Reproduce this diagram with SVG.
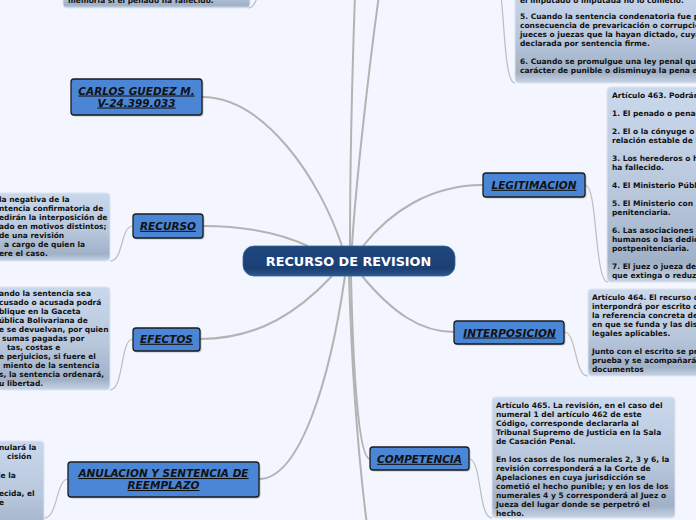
<svg xmlns="http://www.w3.org/2000/svg" width="696" height="520" viewBox="0 0 696 520">
<defs>
<linearGradient id="boxg" x1="0" y1="0" x2="0" y2="1">
<stop offset="0" stop-color="#cad8ec"/>
<stop offset="0.55" stop-color="#b8c7dc"/>
<stop offset="0.9" stop-color="#a0b0c6"/>
<stop offset="1" stop-color="#c9d5e6"/>
</linearGradient>
<linearGradient id="centg" x1="0" y1="0" x2="0" y2="1">
<stop offset="0" stop-color="#1f4880"/>
<stop offset="0.75" stop-color="#1b3f73"/>
<stop offset="1" stop-color="#2c5890"/>
</linearGradient>
<style>
.bg{fill:#f3f6fe}
.box{fill:url(#boxg);stroke:#dbe3ef;stroke-width:1}
.bt{font-family:"DejaVu Sans",Verdana,sans-serif;font-weight:bold;font-size:7.5px;fill:#111}
.node{fill:#4a86d5;stroke:#1b1b1b;stroke-width:1.3}
.shadow{fill:#000;opacity:0.22}
.nt{font-family:"DejaVu Sans",Verdana,sans-serif;font-weight:bold;font-style:italic;font-size:10.5px;fill:#111;text-anchor:middle;text-decoration:underline}
.ct{font-family:"DejaVu Sans",Verdana,sans-serif;font-weight:bold;font-size:12.8px;fill:#fff;text-anchor:middle}
.c1{fill:none;stroke:#b3b3b3;stroke-width:2}
.c2{fill:none;stroke:#bdbdbd;stroke-width:1.2}
</style>
</defs>
<rect class="bg" x="0" y="0" width="696" height="520"/>

<g id="connectors">
<path class="c1" d="M202,97 C265,97 320,180 342,246"/>
<path class="c1" d="M355,-5 C352,80 350,180 350,246"/>
<path class="c1" d="M379,-5 C370,60 356,180 352,246"/>
<path class="c1" d="M203,226 C245,226 282,234 308,246"/>
<path class="c1" d="M363,246 C390,212 430,185 483,185"/>
<path class="c1" d="M200,339 C260,339 300,310 332,276"/>
<path class="c1" d="M362,276 C392,312 420,332 454,332"/>
<path class="c1" d="M345,276 C330,380 300,479 259,479"/>
<path class="c1" d="M351,276 C353,365 358,459 370,459"/>
<path class="c1" d="M349,276 C352,380 360,470 367,525"/>
<path class="c2" d="M248,8 C258,8 258,-15 270,-25"/>
<path class="c2" d="M490,-40 C507,-40 500,83 515,83"/>
<path class="c2" d="M585,185 C598,185 594,282 608,282"/>
<path class="c2" d="M564,332 C577,332 574,376 588,376"/>
<path class="c2" d="M469,459 C482,459 478,518 492,518"/>
<path class="c2" d="M133,226 C120,226 124,261 110,261"/>
<path class="c2" d="M133,339 C120,339 124,390 110,390"/>
<path class="c2" d="M68,479 C56,479 58,518 44,518"/>
</g>

<g id="box-top-left">
<rect class="box" x="63" y="-20" width="187" height="28" rx="4"/>
<text class="bt" x="68" y="2.5">memoria si el penado ha fallecido.</text>
</g>

<g id="box-top-right">
<rect class="box" x="515" y="-20" width="200" height="103" rx="4"/>
<text class="bt" x="520" y="3">el imputado o imputada no lo cometió.</text>
<text class="bt" x="520" y="19">5. Cuando la sentencia condenatoria fue p</text>
<text class="bt" x="520" y="28">consecuencia de prevaricación o corrupció</text>
<text class="bt" x="520" y="37">jueces o juezas que la hayan dictado, cuya</text>
<text class="bt" x="520" y="46">declarada por sentencia firme.</text>
<text class="bt" x="520" y="64">6. Cuando se promulgue una ley penal que</text>
<text class="bt" x="520" y="73">carácter de punible o disminuya la pena es</text>
</g>

<g id="box-legitimacion">
<rect class="box" x="607" y="87" width="110" height="195" rx="4"/>
<text class="bt" x="612" y="98.4">Artículo 463. Podrán</text>
<text class="bt" x="612" y="116.4">1. El penado o penad</text>
<text class="bt" x="612" y="134.4">2. El o la cónyuge o</text>
<text class="bt" x="612" y="143.4">relación estable de h</text>
<text class="bt" x="612" y="161.4">3. Los herederos o h</text>
<text class="bt" x="612" y="170.4">ha fallecido.</text>
<text class="bt" x="612" y="188.4">4. El Ministerio Públ</text>
<text class="bt" x="612" y="206.4">5. El Ministerio con</text>
<text class="bt" x="612" y="215.4">penitenciaria.</text>
<text class="bt" x="612" y="233.4">6. Las asociaciones</text>
<text class="bt" x="612" y="242.4">humanos o las dedic</text>
<text class="bt" x="612" y="251.4">postpenitenciaria.</text>
<text class="bt" x="612" y="269.4">7. El juez o jueza de</text>
<text class="bt" x="612" y="278.4">que extinga o reduz</text>
</g>

<g id="box-interposicion">
<rect class="box" x="588" y="289" width="130" height="87" rx="4"/>
<text class="bt" x="592" y="299.5">Artículo 464. El recurso d</text>
<text class="bt" x="592" y="308.5">interpondrá por escrito q</text>
<text class="bt" x="592" y="317.5">la referencia concreta de</text>
<text class="bt" x="592" y="326.5">en que se funda y las dis</text>
<text class="bt" x="592" y="335.5">legales aplicables.</text>
<text class="bt" x="592" y="353.5">Junto con el escrito se pr</text>
<text class="bt" x="592" y="362.5">prueba y se acompañarán</text>
<text class="bt" x="592" y="371.5">documentos</text>
</g>

<g id="box-competencia">
<rect class="box" x="492" y="397" width="183" height="121" rx="4"/>
<text class="bt" x="496" y="407.5">Artículo 465. La revisión, en el caso del</text>
<text class="bt" x="496" y="416.5">numeral 1 del artículo 462 de este</text>
<text class="bt" x="496" y="425.5">Código, corresponde declararla al</text>
<text class="bt" x="496" y="434.5">Tribunal Supremo de Justicia en la Sala</text>
<text class="bt" x="496" y="443.5">de Casación Penal.</text>
<text class="bt" x="496" y="461.5">En los casos de los numerales 2, 3 y 6, la</text>
<text class="bt" x="496" y="470.5">revisión corresponderá a la Corte de</text>
<text class="bt" x="496" y="479.5">Apelaciones en cuya jurisdicción se</text>
<text class="bt" x="496" y="488.5">cometió el hecho punible; y en los de los</text>
<text class="bt" x="496" y="497.5">numerales 4 y 5 corresponderá al Juez o</text>
<text class="bt" x="496" y="506.5">Jueza del lugar donde se perpetró el</text>
<text class="bt" x="496" y="515.5">hecho.</text>
</g>

<g id="box-recurso">
<rect class="box" x="-20" y="193" width="130" height="68" rx="4"/>
<text class="bt" x="-1" y="202">la negativa de la</text>
<text class="bt" x="-1" y="211">ntencia confirmatoria de</text>
<text class="bt" x="-1" y="220">edirán la interposición de</text>
<text class="bt" x="-1" y="229">ado en motivos distintos;</text>
<text class="bt" x="-1" y="238">de una revisión</text>
<text class="bt" x="4" y="247">a cargo de quien la</text>
<text class="bt" x="-1" y="256">ere el caso.</text>
</g>

<g id="box-efectos">
<rect class="box" x="-20" y="287" width="130" height="103" rx="4"/>
<text class="bt" x="-1" y="296">ando la sentencia sea</text>
<text class="bt" x="-1" y="305">cusado o acusada podrá</text>
<text class="bt" x="-1" y="314">blique en la Gaceta</text>
<text class="bt" x="-1" y="323">ública Bolivariana de</text>
<text class="bt" x="-1" y="332">e se devuelvan, por quien</text>
<text class="bt" x="2" y="341">sumas pagadas por</text>
<text class="bt" x="7" y="350">tas, costas e</text>
<text class="bt" x="-1" y="359">e perjuicios, si fuere el</text>
<text class="bt" x="3" y="368">miento de la sentencia</text>
<text class="bt" x="-1" y="377">s, la sentencia ordenará,</text>
<text class="bt" x="-1" y="386">u libertad.</text>
</g>

<g id="box-anulacion">
<rect class="box" x="-20" y="441" width="64" height="100" rx="4"/>
<text class="bt" x="-1" y="450">nulará la</text>
<text class="bt" x="7" y="459">cisión</text>
<text class="bt" x="-2" y="477.5">le la</text>
<text class="bt" x="-1" y="495.5">ecida, el</text>
<text class="bt" x="-1" y="504.5">e</text>
</g>

<g id="node-center">
<rect x="243" y="246" width="212" height="30" rx="11" fill="url(#centg)" stroke="#3a6296" stroke-width="0.8"/>
<text class="ct" x="348.5" y="265.7">RECURSO DE REVISION</text>
</g>

<g id="node-carlos">
<rect class="shadow" x="72.5" y="80.5" width="131" height="36" rx="3"/>
<rect class="node" x="71" y="79" width="131" height="36" rx="3"/>
<text class="nt" x="136.5" y="94.5">CARLOS GUEDEZ M. </text>
<text class="nt" x="136.5" y="106.5">V-24.399.033</text>
</g>

<g id="node-recurso">
<rect class="shadow" x="134.5" y="215.5" width="70" height="24" rx="3"/>
<rect class="node" x="133" y="214" width="70" height="24" rx="3"/>
<text class="nt" x="168" y="229.8">RECURSO</text>
</g>

<g id="node-efectos">
<rect class="shadow" x="134.5" y="329.5" width="67" height="23" rx="3"/>
<rect class="node" x="133" y="328" width="67" height="23" rx="3"/>
<text class="nt" x="166.5" y="342.8">EFECTOS</text>
</g>

<g id="node-anulacion">
<rect class="shadow" x="69.5" y="463.5" width="191" height="35" rx="3"/>
<rect class="node" x="68" y="462" width="191" height="35" rx="3"/>
<text class="nt" x="163.5" y="477">ANULACION Y SENTENCIA DE </text>
<text class="nt" x="163.5" y="489">REEMPLAZO</text>
</g>

<g id="node-legitimacion">
<rect class="shadow" x="484.5" y="174.5" width="102" height="24" rx="3"/>
<rect class="node" x="483" y="173" width="102" height="24" rx="3"/>
<text class="nt" x="534" y="188.8">LEGITIMACION</text>
</g>

<g id="node-interposicion">
<rect class="shadow" x="455.5" y="322.5" width="110" height="23" rx="3"/>
<rect class="node" x="454" y="321" width="110" height="23" rx="3"/>
<text class="nt" x="509.5" y="336.5">INTERPOSICION</text>
</g>

<g id="node-competencia">
<rect class="shadow" x="371.5" y="448.5" width="99" height="23" rx="3"/>
<rect class="node" x="370" y="447" width="99" height="23" rx="3"/>
<text class="nt" x="419.5" y="462.8">COMPETENCIA</text>
</g>
</svg>
